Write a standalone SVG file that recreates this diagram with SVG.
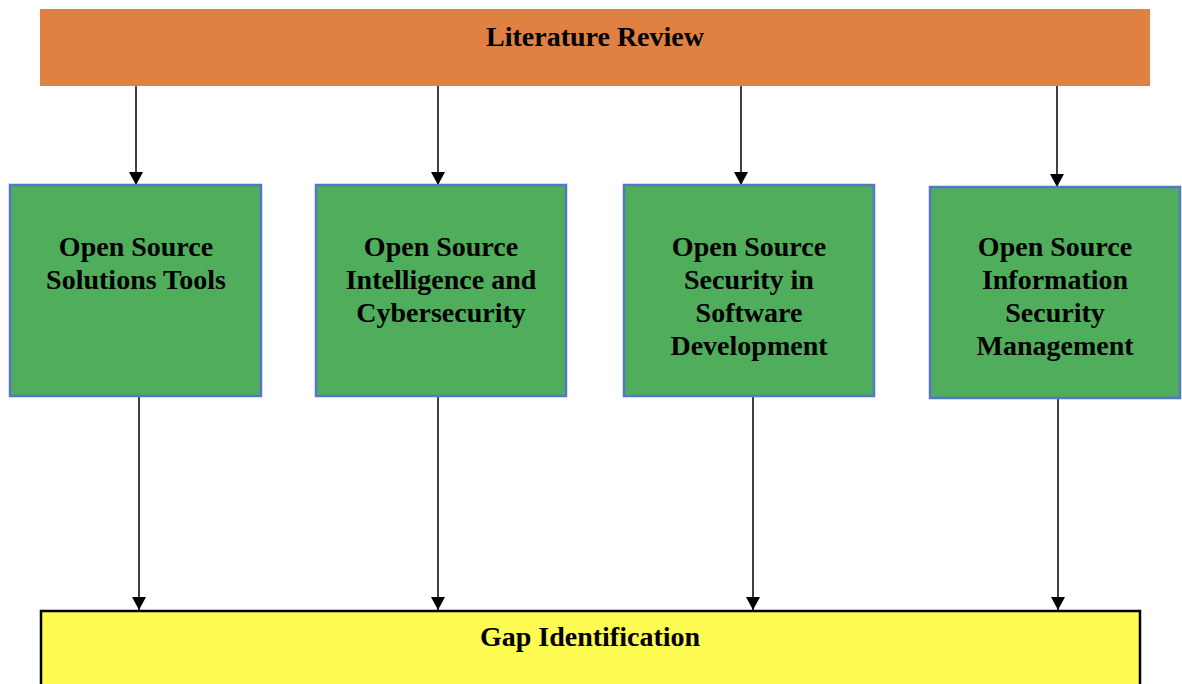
<svg xmlns="http://www.w3.org/2000/svg" width="1182" height="684" viewBox="0 0 1182 684">
<style>
.t{font-family:"Liberation Serif","Times New Roman",serif;font-weight:bold;font-size:28px;fill:#000;text-anchor:middle}
.g{fill:#4FAD5B;stroke:#5577C8;stroke-width:2.5}
.c{stroke:#000;stroke-width:1.5;fill:none;marker-end:url(#ah)}
</style>
<defs>
<marker id="ah" viewBox="0 0 13 14" refX="13" refY="7" markerWidth="13" markerHeight="14" markerUnits="userSpaceOnUse" orient="auto">
<path d="M0,0 L13,7 L0,14 Z" fill="#000"/>
</marker>
</defs>
<rect width="1182" height="684" fill="#fff"/>
<g id="connectors">
<line class="c" x1="136" y1="86" x2="136" y2="185"/>
<line class="c" x1="438" y1="86" x2="438" y2="185"/>
<line class="c" x1="741" y1="86" x2="741" y2="185"/>
<line class="c" x1="1057" y1="86" x2="1057" y2="187"/>
<line class="c" x1="139" y1="396" x2="139" y2="610"/>
<line class="c" x1="438" y1="396" x2="438" y2="610"/>
<line class="c" x1="753" y1="396" x2="753" y2="610"/>
<line class="c" x1="1058" y1="398" x2="1058" y2="610"/>
</g>
<g id="literature-review">
<rect x="40" y="9" width="1110" height="77" fill="#DF8142"/>
<text class="t" x="595" y="46">Literature Review</text>
</g>
<g id="node1">
<rect class="g" x="10" y="185" width="251" height="211"/>
<text class="t" x="136" y="256">Open Source</text>
<text class="t" x="136" y="289">Solutions Tools</text>
</g>
<g id="node2">
<rect class="g" x="316" y="185" width="250" height="211"/>
<text class="t" x="441" y="256">Open Source</text>
<text class="t" x="441" y="289">Intelligence and</text>
<text class="t" x="441" y="322">Cybersecurity</text>
</g>
<g id="node3">
<rect class="g" x="624" y="185" width="250" height="211"/>
<text class="t" x="749" y="256">Open Source</text>
<text class="t" x="749" y="289">Security in</text>
<text class="t" x="749" y="322">Software</text>
<text class="t" x="749" y="355">Development</text>
</g>
<g id="node4">
<rect class="g" x="930" y="187" width="250" height="211"/>
<text class="t" x="1055" y="256">Open Source</text>
<text class="t" x="1055" y="289">Information</text>
<text class="t" x="1055" y="322">Security</text>
<text class="t" x="1055" y="355">Management</text>
</g>
<g id="gap-identification">
<rect x="41" y="611" width="1099" height="80" fill="#FEFB52" stroke="#000" stroke-width="2.5"/>
<text class="t" x="590" y="646">Gap Identification</text>
</g>
</svg>
